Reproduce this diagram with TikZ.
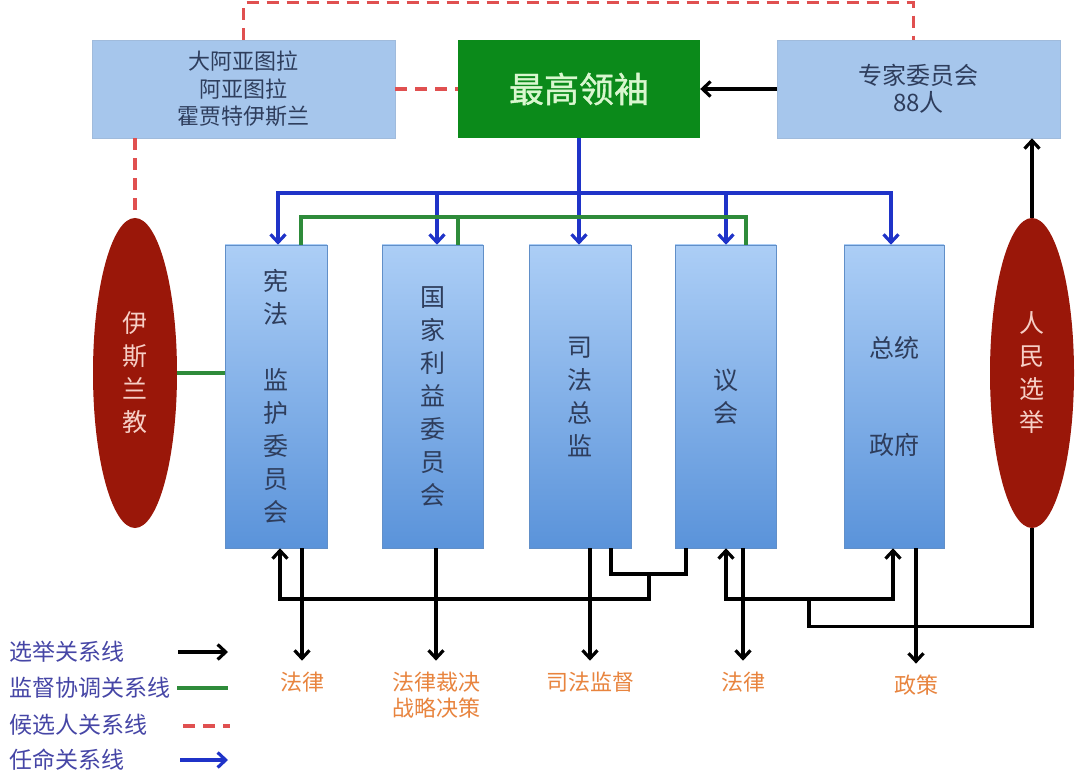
\documentclass[tikz,border=0pt]{standalone}
\usepackage{fontspec}
\setmainfont{Noto Sans CJK SC}
\newfontfamily\leadfont[FakeBold=1.2]{Noto Sans CJK SC}
\usetikzlibrary{arrows.meta,shapes.geometric}
\definecolor{boxblue}{HTML}{A6C6EC}
\definecolor{coltop}{HTML}{ACCEF6}
\definecolor{colbot}{HTML}{5A93DA}
\definecolor{leadgreen}{HTML}{0B8A1A}
\definecolor{leadtext}{HTML}{D9F7CF}
\definecolor{ellred}{HTML}{9A1709}
\definecolor{elltext}{HTML}{F6CFC6}
\definecolor{boxtext}{HTML}{2E3D5C}
\definecolor{apblue}{HTML}{1F33C8}
\definecolor{supgreen}{HTML}{2E8B3A}
\definecolor{candred}{HTML}{E05050}
\definecolor{outorange}{HTML}{E8843E}
\definecolor{legtext}{HTML}{4646A6}
\begin{document}
\begin{tikzpicture}[x=1pt,y=-1pt,
  topbox/.style={fill=boxblue, draw=boxblue!85!gray, line width=0.6pt, minimum height=98pt, inner sep=0pt, text=boxtext, align=center},
  colbox/.style={top color=coltop, bottom color=colbot, draw=colbot!80!gray, line width=0.6pt, minimum height=303pt, inner sep=0pt, text=boxtext, align=center, font=\fontsize{25pt}{33pt}\selectfont},
  ellbox/.style={ellipse, fill=ellred, minimum width=84pt, minimum height=310pt, inner sep=0pt, text=elltext, align=center, font=\fontsize{25pt}{33pt}\selectfont},
  outlab/.style={text=outorange, align=center, inner xsep=1pt, inner ysep=11pt, font=\fontsize{22pt}{26pt}\selectfont},
  legtxt/.style={text=legtext, anchor=west, inner sep=0pt, font=\fontsize{23pt}{26pt}\selectfont},
  eline/.style={draw=black, line width=3.2pt},
  earrow/.style={eline, -{Straight Barb[length=8pt,width=15pt]}},
  aline/.style={draw=apblue, line width=3.2pt},
  aarrow/.style={aline, -{Straight Barb[length=8pt,width=15pt]}},
  sline/.style={draw=supgreen, line width=3.2pt},
  cline/.style={draw=candred, line width=3.4pt, dash pattern=on 12pt off 8pt}
]
\fill[white] (0,0) rectangle (1079,775);
\useasboundingbox (0,0) rectangle (1079,775);

% top row
\node[topbox, minimum width=303pt, font=\fontsize{22pt}{27.5pt}\selectfont] (ayat) at (243.5,89) {大阿亚图拉\\阿亚图拉\\霍贾特伊斯兰};
\node[fill=leadgreen, minimum width=242pt, minimum height=98pt, inner sep=0pt, text=leadtext, font=\fontsize{35pt}{40pt}\leadfont] (leader) at (579,89) {最高领袖};
\node[topbox, minimum width=283pt, font=\fontsize{24pt}{27pt}\selectfont] (expert) at (918.5,89) {专家委员会\\88人};

% columns
\node[colbox, minimum width=102pt] (col1) at (276,396.5) {宪\\法\\[33pt]监\\护\\委\\员\\会};
\node[colbox, minimum width=101pt] (col2) at (432.5,396.5) {国\\家\\利\\益\\委\\员\\会};
\node[colbox, minimum width=102pt] (col3) at (580,396.5) {司\\法\\总\\监};
\node[colbox, minimum width=101pt] (col4) at (725.5,396.5) {议\\会};
\node[colbox, minimum width=100pt] (col5) at (894,396.5) {总统\\[64pt]政府};

% ellipses
\node[ellbox] (islam) at (135,373) {伊\\斯\\兰\\教};
\node[ellbox] (people) at (1032,373) {人\\民\\选\\举};

% candidate relations
\draw[cline] (ayat.north) -- ++(0,-37) -| ([xshift=-5pt]expert.north);
\draw[cline] (ayat.east) -- (leader.west);
\draw[cline] (ayat.south -| islam.north) -- (islam.north);

% elections (top)
\draw[earrow] (expert.west) -- (leader.east);
\draw[earrow] (people.north) -- (people.north |- expert.south);

% appointments
\coordinate (bus) at (579,193);
\coordinate (a1) at ([xshift=2pt]col1.north);
\coordinate (a2) at ([xshift=4.5pt]col2.north);
\coordinate (a4) at ([xshift=0.5pt]col4.north);
\coordinate (a5) at ([xshift=-3pt]col5.north);
\draw[aarrow] (leader.south) -- (leader.south |- col3.north);
\draw[aarrow] (bus) -| (a1);
\draw[aarrow] (bus) -| (a5);
\draw[aarrow] (a2 |- bus) -- (a2);
\draw[aarrow] (a4 |- bus) -- (a4);

% supervision / coordination
\coordinate (gbus) at (500,217);
\coordinate (s1) at ([xshift=25pt]col1.north);
\coordinate (s2) at ([xshift=25.5pt]col2.north);
\coordinate (s4) at ([xshift=20.5pt]col4.north);
\draw[sline] (s1) -- (s1 |- gbus) -- (s4 |- gbus) -- (s4);
\draw[sline] (s2) -- (s2 |- gbus);
\draw[sline] (islam.east) -- (islam.east -| col1.west);

% elections (bottom)
\coordinate (b3) at ([xshift=31pt]col3.south);
\coordinate (b4) at ([xshift=-39.5pt]col4.south);
\coordinate (j1) at (649,574);
\coordinate (e1) at ([xshift=4pt]col1.south);
\draw[eline] (b3) |- (j1) -| (b4);
\draw[earrow] (j1) -- ++(0,25) -| (e1);
\coordinate (j2) at (809,599);
\coordinate (e4) at ([xshift=0.5pt]col4.south);
\coordinate (e5) at ([xshift=-1pt]col5.south);
\draw[eline] (people.south) -- ++(0,98) -| (j2);
\draw[earrow] (j2) -| (e4);
\draw[earrow] (j2) -| (e5);

% outputs
\node[outlab] (o1) at (302,682) {法律};
\node[outlab] (o2) at (436,695) {法律裁决\\战略决策};
\node[outlab] (o3) at (590,682) {司法监督};
\node[outlab] (o4) at (743,682) {法律};
\node[outlab] (o5) at (916,685) {政策};
\draw[earrow] ([xshift=26pt]col1.south) -- (o1.north);
\draw[earrow] ([xshift=3.5pt]col2.south) -- (o2.north);
\draw[earrow] ([xshift=10pt]col3.south) -- (o3.north);
\draw[earrow] ([xshift=17.5pt]col4.south) -- (o4.north);
\draw[earrow] ([xshift=22pt]col5.south) -- (o5.north);

% legend
\node[legtxt] (l1) at (9,652) {选举关系线};
\node[legtxt] (l2) at (9,688) {监督协调关系线};
\node[legtxt] (l3) at (9,725) {候选人关系线};
\node[legtxt] (l4) at (9,760) {任命关系线};
\coordinate (l1a) at (178,652); \coordinate (l1b) at (228,652);
\coordinate (l2a) at (177,688); \coordinate (l2b) at (228,688);
\coordinate (l3a) at (183,726); \coordinate (l3b) at (230,726);
\coordinate (l4a) at (180,760); \coordinate (l4b) at (228,760);
\draw[earrow] (l1a) -- (l1b);
\draw[sline] (l2a) -- (l2b);
\draw[cline] (l3a) -- (l3b);
\draw[aarrow] (l4a) -- (l4b);
\end{tikzpicture}
\end{document}
